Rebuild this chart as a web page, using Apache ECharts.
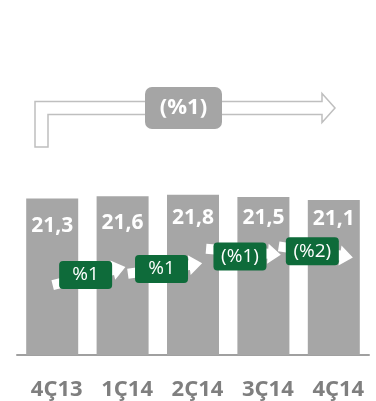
<!DOCTYPE html>
<html>
<head>
<meta charset="utf-8">
<script src="https://cdn.jsdelivr.net/npm/echarts@6/dist/echarts.min.js"></script>
<style>
html,body{margin:0;padding:0;background:#fff;}
#c{width:376px;height:401px;}
</style>
</head>
<body>
<div id="c"></div>
<script>
// ---- data ----
const categories = ['4Ç13', '1Ç14', '2Ç14', '3Ç14', '4Ç14'];
const values = [21.3, 21.6, 21.8, 21.5, 21.1];
const valueLabels = ['21,3', '21,6', '21,8', '21,5', '21,1'];
const growthLabels = ['%1', '%1', '(%1)', '(%2)'];
const growthX = [0.475, 1.553, 2.667, 3.695];   // position along the category band
const growthY = [10.9, 11.7, 13.4, 14.1];        // height in value units
const totalLabel = '(%1)';

// ---- styles ----
const labelNudge = [4, 3, 0, -2, -4];
const arrowAngles = [14, 8, -4.6, -8.5];
const arrowDy = [2, 0, -5, 0];
const FONT = 'Open Sans';
const GREEN = '#0e6b3a';
const GRAY = '#a6a6a6';

const chart = echarts.init(document.getElementById('c'), null, {renderer: 'canvas'});

const barData = values.map((v, i) => ({
  value: v,
  label: {
    show: true,
    position: 'insideTop',
    distance: 13,
    offset: [0, labelNudge[i]],
    formatter: valueLabels[i],
    color: '#fff',
    fontFamily: FONT,
    fontWeight: 'bold',
    fontSize: 21
  }
}));

const growthData = growthX.map((x, i) => [x, growthY[i], i]);

function renderGrowth(params, api) {
  const i = api.value(2);
  const p = api.coord([api.value(0), api.value(1)]);
  const a = arrowAngles[i] * Math.PI / 180;
  return {
    type: 'group',
    children: [
      {
        type: 'polygon',
        x: p[0], y: p[1] + arrowDy[i],
        rotation: a,
        shape: {points: [[-34,-5],[28,-5],[28,-10],[41,0],[28,10],[28,5],[-34,5]]},
        style: {fill: '#ffffff'}
      },
      {
        type: 'rect',
        shape: {x: p[0] - 26.5, y: p[1] - 14, width: 53, height: 28, r: 4},
        style: {fill: GREEN}
      },
      {
        type: 'text',
        x: p[0], y: p[1],
        style: {
          text: growthLabels[i],
          fill: '#fff',
          font: '19px "' + FONT + '"',
          align: 'center',
          verticalAlign: 'middle'
        }
      }
    ]
  };
}

chart.setOption({
  animation: false,
  backgroundColor: '#fff',
  grid: {left: 17, right: 7, top: 134.5, bottom: 40, containLabel: false},
  xAxis: [
    {
      type: 'category',
      data: categories,
      axisLine: {show: true, lineStyle: {color: '#a0a0a0', width: 2}},
      axisTick: {show: false},
      axisLabel: {
        color: '#7f7f7f',
        fontFamily: FONT,
        fontWeight: 'bold',
        fontSize: 22,
        margin: 24,
        padding: [0, 0, 0, 9]
      }
    },
    {
      type: 'value', min: -0.5, max: 4.5, show: false
    }
  ],
  yAxis: {type: 'value', min: 0, max: 30, show: false, splitLine: {show: false}},
  series: [
    {
      type: 'bar',
      data: barData,
      barWidth: 52,
      itemStyle: {color: GRAY},
      z: 2
    },
    {
      type: 'custom',
      xAxisIndex: 1,
      yAxisIndex: 0,
      data: growthData,
      renderItem: renderGrowth,
      z: 5
    }
  ],
  graphic: [
    {
      type: 'polygon',
      shape: {points: [[35,101.5],[322,101.5],[322,93.5],[335,108],[322,122.5],[322,114.5],[48,114.5],[48,147],[35,147]]},
      style: {fill: '#fff', stroke: '#bfbfbf', lineWidth: 1.5}
    },
    {
      type: 'rect',
      shape: {x: 145, y: 87, width: 77, height: 42, r: 7},
      style: {fill: '#a5a5a5'}
    },
    {
      type: 'text',
      x: 183.5, y: 108,
      style: {
        text: totalLabel,
        fill: '#fff',
        font: 'bold 22px "' + FONT + '"',
        align: 'center',
        verticalAlign: 'middle'
      }
    }
  ]
});
</script>
</body>
</html>
